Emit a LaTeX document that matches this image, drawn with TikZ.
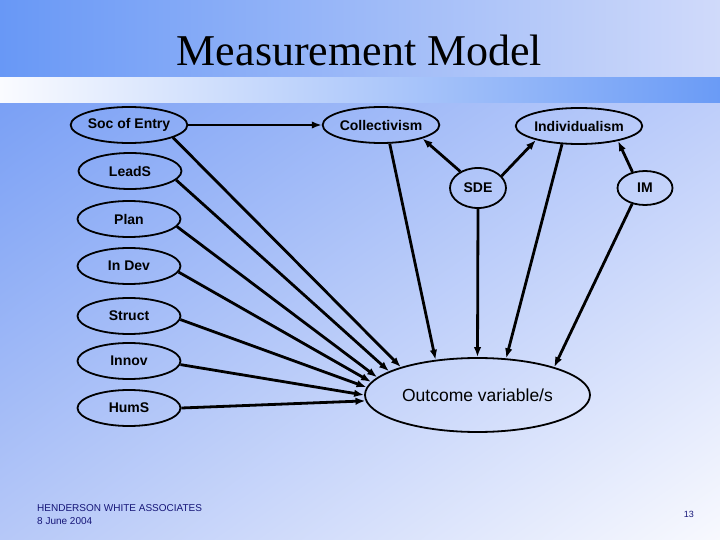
\documentclass[tikz,border=0pt]{standalone}
\usepackage{fontspec}
\setmainfont{Liberation Sans}
\newfontfamily\titlefont{Liberation Serif}
\usetikzlibrary{shapes.geometric,arrows.meta,shadings}
\definecolor{bandL}{RGB}{104,152,246}
\definecolor{bandR}{RGB}{208,218,250}
\definecolor{stripL}{RGB}{250,251,255}
\definecolor{stripR}{RGB}{106,155,246}
\definecolor{mainUL}{RGB}{122,160,245}
\definecolor{mainUR}{RGB}{190,206,250}
\definecolor{mainLL}{RGB}{182,200,248}
\definecolor{mainLR}{RGB}{248,249,254}
\definecolor{footc}{RGB}{22,22,120}
\begin{document}
\begin{tikzpicture}[x=1pt,y=-1pt,
  lat/.style={ellipse,draw=black,line width=1.8pt,inner sep=0pt,
    minimum width=103pt,minimum height=36pt,
    font=\fontsize{14}{16}\selectfont\bfseries},
  conn/.style={line width=2.8pt,-{Latex[length=10pt,width=7.5pt]}},
  foot/.style={inner sep=0pt,text=footc,font=\fontsize{10}{12}\selectfont}]
\useasboundingbox (0,0) rectangle (720,540);
% background
\shade[upper left=mainUL,upper right=mainUR,lower left=mainLL,lower right=mainLR]
  (0,103) rectangle (720,540);
\shade[left color=bandL,right color=bandR] (0,0) rectangle (720,78);
\shade[left color=stripL,right color=stripR] (0,78) rectangle (720,103);
% title
\node[inner sep=0pt,anchor=base,font=\titlefont\fontsize{44}{48}\selectfont] (title) at (359.5,66) {Measurement Model};
% nodes
\node[lat] (soc) at (129,125) {Soc of Entry};
\node[lat] (leads) at (130,171) {LeadS};
\node[lat] (plan) at (129,219) {Plan};
\node[lat] (indev) at (129,266) {In Dev};
\node[lat] (struct) at (129,316) {Struct};
\node[lat] (innov) at (129,361) {Innov};
\node[lat] (hums) at (129,408) {HumS};
\node[lat] (coll) at (381,125) {Collectivism};
\node[lat] (indiv) at (579,126) {Individualism};
\node[lat,minimum width=56pt,minimum height=40pt] (sde) at (478,188) {SDE};
\node[lat,minimum width=55pt,minimum height=34pt] (im) at (645,188) {IM};
\node[lat,minimum width=225pt,minimum height=74pt,
  font=\fontsize{17.5}{20}\selectfont] (out) at (477.5,395) {Outcome variable/s};
% connectors
\draw[conn] (soc.east) -- (coll.west);
\draw[conn] (soc.-16) -- (out.160.6);
\draw[conn] (leads.-11) -- (out.165.5);
\draw[conn] (plan.-9) -- (out.170);
\draw[conn] (indev.-7) -- (out.173);
\draw[conn] (struct.-4) -- (out.176.5);
\draw[conn] (innov.-4) -- (out.180);
\draw[conn] (hums.0) -- (out.183);
\draw[conn] (coll.-65) -- (out.140);
\draw[conn] (sde.south) -- (out.90);
\draw[conn] (indiv.-133) -- (out.52);
\draw[conn] (im.-129) -- (out.20);
\draw[conn] (sde.137) -- (coll.-18);
\draw[conn] (sde.27) -- (indiv.198);
\draw[conn] (im.128) -- (indiv.-21);
% footer
\node[foot,anchor=base west] (firm) at (37,511) {HENDERSON WHITE ASSOCIATES};
\node[foot,anchor=base west] (date) at (37,524) {8 June 2004};
\node[foot,anchor=base east,font=\fontsize{9}{11}\selectfont] (page) at (694,517) {13};
\end{tikzpicture}
\end{document}
